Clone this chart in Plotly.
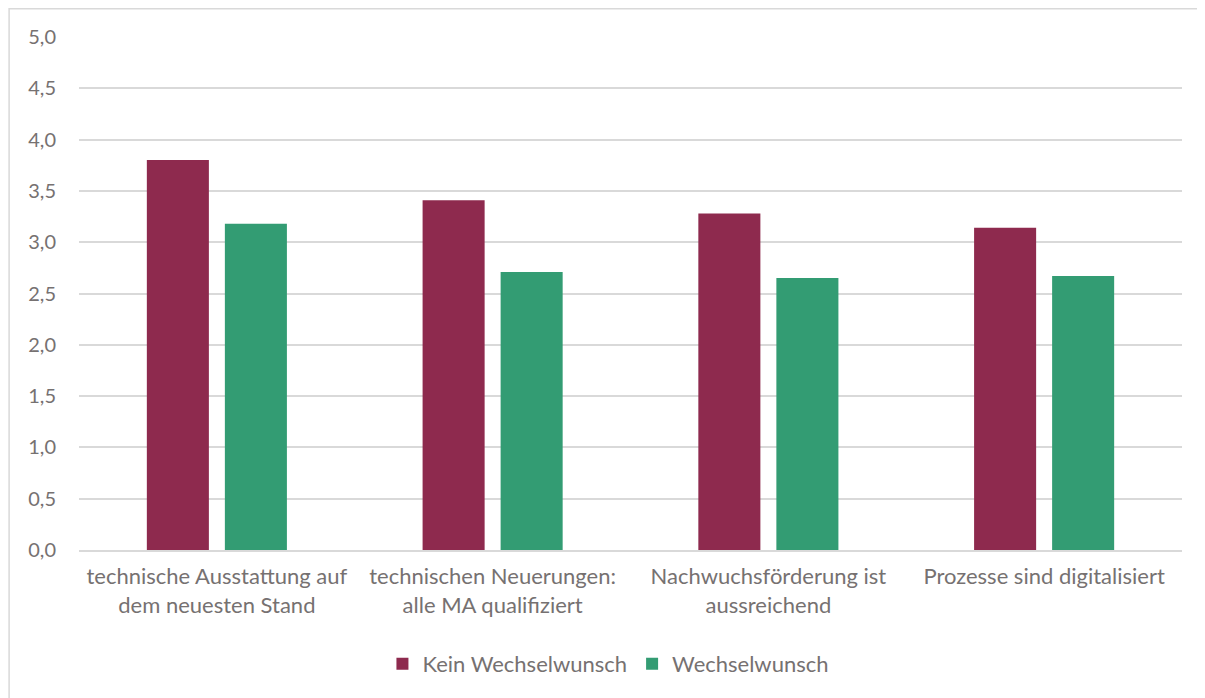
import plotly.graph_objects as go

# data
categories = [
    "technische Ausstattung auf<br>dem neuesten Stand",
    "technischen Neuerungen:<br>alle MA qualifiziert",
    "Nachwuchsförderung ist<br>aussreichend",
    "Prozesse sind digitalisiert",
]
kein_wechsel = [3.80, 3.41, 3.28, 3.14]
wechsel = [3.18, 2.71, 2.65, 2.67]
y_ticks = [0, 0.5, 1.0, 1.5, 2.0, 2.5, 3.0, 3.5, 4.0, 4.5, 5.0]

text_color = "#767171"
grid_color = "#D9D9D9"

fig = go.Figure()
fig.add_trace(go.Bar(x=categories, y=kein_wechsel, name="Kein Wechselwunsch",
                     marker=dict(color="#8E2A4E", line=dict(width=0))))
fig.add_trace(go.Bar(x=categories, y=wechsel, name="Wechselwunsch",
                     marker=dict(color="#339C73", line=dict(width=0))))

# outer chart border (only left and top visible in the frame)
fig.add_shape(type="rect", xref="paper", yref="paper",
              x0=0.001 - 71 / 1103, x1=1.05, y0=-0.35, y1=1.055,
              line=dict(color="#D9D9D9", width=1.5), layer="below")

fig.update_layout(
    width=1197, height=690,
    margin=dict(l=71, r=23, t=29, b=148),
    paper_bgcolor="white", plot_bgcolor="white",
    font=dict(family="Lato, Open Sans, sans-serif", size=22, color=text_color),
    separators=",.",
    barmode="group", bargap=0.434, bargroupgap=0.205,
    showlegend=True,
    legend=dict(orientation="h", x=0.48, xanchor="center", y=-0.222, yanchor="middle",
                font=dict(size=22, color=text_color), itemwidth=30),
    xaxis=dict(showline=True, linecolor=grid_color, linewidth=2, ticks="",
               tickfont=dict(size=22), ticklabelstandoff=6),
    yaxis=dict(range=[0, 5.0], tickvals=y_ticks, tickformat=".1f",
               showgrid=True, gridcolor=grid_color, gridwidth=1.5,
               zeroline=False, ticks="", ticklabelstandoff=22,
               tickfont=dict(size=20)),
)

fig.write_html("out.html")
